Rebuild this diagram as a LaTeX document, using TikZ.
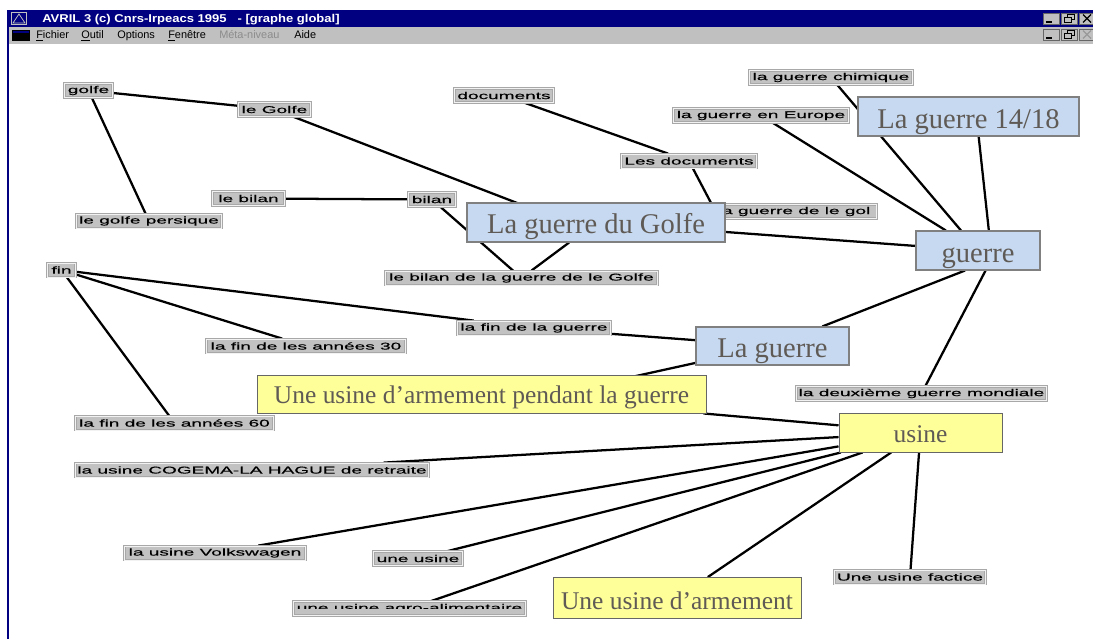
\documentclass[tikz,border=0pt]{standalone}
\usepackage{fontspec}
\usetikzlibrary{backgrounds,calc}
\setmainfont{Liberation Serif}
\newfontfamily\labfont[FakeStretch=1.93,FakeBold=0.4]{Liberation Sans}
\newfontfamily\uifont{Liberation Sans}
\newfontfamily\titlefont[FakeStretch=1.15]{Liberation Sans Bold}
\definecolor{navy}{RGB}{0,0,128}
\definecolor{wgrey}{RGB}{192,192,192}
\definecolor{labgrey}{RGB}{194,194,194}
\definecolor{labedge}{RGB}{168,168,168}
\definecolor{bluebox}{RGB}{198,217,240}
\definecolor{yelbox}{RGB}{255,255,153}
\definecolor{boxtext}{RGB}{95,90,85}
\tikzset{
 x=0.75pt,y=-0.75pt,
 w/.style={minimum width=#1*0.75pt},
 h/.style={minimum height=#1*0.75pt},
 bl/.style={text height=#1*1.5pt,text depth=0pt},
 lab/.style={draw=labedge,line width=0.6pt,double=white!90!gray,double distance=0.35pt,fill=labgrey,inner sep=0pt,h=14,
   font=\labfont\fontsize{7.4pt}{8pt}\selectfont,text=black},
 big/.style={draw=black!50,line width=0.8pt,fill=bluebox,inner sep=0pt,text=boxtext,font=\fontsize{21.4pt}{24pt}\selectfont},
 yel/.style={draw=black!60,line width=0.7pt,fill=yelbox,inner sep=0pt,text=boxtext,font=\fontsize{19.1pt}{22pt}\selectfont},
 link/.style={line width=1.7pt,black},
 menu/.style={inner sep=0pt,anchor=base west,font=\uifont\fontsize{8.2pt}{9pt}\selectfont},
 winbtn/.style={draw=black!60,line width=0.5pt,fill=wgrey,w=16,h=11,inner sep=0pt}
}
\begin{document}
\begin{tikzpicture}
\useasboundingbox (0,0) rectangle (1093,639);
% window
\fill[navy] (7,10) rectangle (1093,27);
\fill[wgrey] (9,27) rectangle (1093,44);
\fill[navy] (7,10) rectangle (9,639);
\fill[wgrey] (11,12) rectangle (27,25);
\fill[navy] (12,13) rectangle (26,24);
\draw[wgrey,line width=0.6pt] (19,14) -- (13,23) -- (25,23) -- cycle;
\fill[black] (12,30) rectangle (30,41);
\fill[navy] (13,31) rectangle (29,33);
\node[menu,text=white,font=\titlefont\fontsize{8.5pt}{9pt}\selectfont] (title) at (42,22) {AVRIL 3 (c) Cnrs-Irpeacs 1995\ \ \ - [graphe global]};
\node[menu] (m1) at (36,38) {\underline{F}ichier};
\node[menu] (m2) at (81,38) {\underline{O}util};
\node[menu] (m3) at (117,38) {Options};
\node[menu] (m4) at (168,38) {\underline{F}enêtre};
\node[menu,text=black!45] (m5) at (219,38) {Méta-niveau};
\node[menu] (m6) at (294,38) {Aide};
\foreach \nm/\xx/\yy in {b1/1051/18.5,b2/1069/18.5,b3/1087/18.5,b4/1051/34.5,b5/1069/34.5,b6/1087/34.5}{
  \node[winbtn] (\nm) at (\xx,\yy) {};
}
\foreach \nm in {b1,b4}{\draw[black,line width=1pt] ($(\nm)+(-5,3.5)$) -- ($(\nm)+(1,3.5)$);}
\foreach \nm in {b2,b5}{
  \draw[black,line width=0.6pt] ($(\nm)+(-2,-4)$) rectangle ($(\nm)+(5,1)$);
  \draw[black,fill=wgrey,line width=0.6pt] ($(\nm)+(-5,-1)$) rectangle ($(\nm)+(2,4)$);}
\draw[black,line width=0.9pt] ($(b3)+(-4,-4)$) -- ($(b3)+(4,4)$) ($(b3)+(4,-4)$) -- ($(b3)+(-4,4)$);
\draw[black!40,line width=0.9pt] ($(b6)+(-4,-4)$) -- ($(b6)+(4,4)$) ($(b6)+(4,-4)$) -- ($(b6)+(-4,4)$);
% labels
\node[lab,w=48] (golfe) at (88.5,90.5) {golfe};
\node[lab,w=72] (leGolfe) at (274.5,109.5) {le Golfe};
\node[lab,w=145] (persique) at (149,221) {le golfe persique};
\node[lab,w=72] (lebilan) at (248.5,198.5) {le bilan};
\node[lab,w=47] (bilan) at (432,199.5) {bilan};
\node[lab,w=272] (bilang) at (521.5,278) {le bilan de la guerre de le Golfe};
\node[lab,w=99] (documents) at (504,95.5) {documents};
\node[lab,w=135] (lesdoc) at (689,161) {Les documents};
\node[lab,w=163] (chimique) at (831,77.5) {la guerre chimique};
\node[lab,w=175] (europe) at (761,115.5) {la guerre en Europe};
\node[lab,w=165,anchor=east] (gdlg) at (877,211.5) {la guerre de le gol};
\node[lab,w=28] (fin) at (61.5,270) {fin};
\node[lab,w=199] (fin30) at (306,346) {la fin de les années 30};
\node[lab,w=153] (fing) at (534,328) {la fin de la guerre};
\node[lab,w=198] (fin60) at (174.5,423) {la fin de les années 60};
\node[lab,w=250] (mondiale) at (921.5,393.5) {la deuxième guerre mondiale};
\node[lab,w=353] (cogema) at (252,470) {la usine COGEMA-LA HAGUE de retraite};
\node[lab,w=181] (vw) at (215,553) {la usine Volkswagen};
\node[lab,w=89] (uneusine) at (418,558.5) {une usine};
\node[lab,w=232] (agro) at (409.5,608.5) {une usine agro-alimentaire};
\fill[labgrey] (296,608.5) rectangle (523,614);
\node[lab,w=151] (factice) at (910,577) {Une usine factice};
% big boxes
\node[big,w=258,h=39,bl=10.5] (gGolfe) at (596,222.5) {La guerre du Golfe};
\node[big,w=221,h=39,bl=11.5] (g1418) at (968.5,116.5) {La guerre 14/18};
\node[big,w=124,h=39,bl=11.5] (guerre) at (978,250.5) {guerre};
\node[big,w=153,h=38,bl=11] (laguerre) at (772.5,346) {La guerre};
\node[yel,w=449,h=38,bl=9] (armp) at (481.5,394) {Une usine d’armement pendant la guerre};
\node[yel,w=163,h=39,bl=9.5] (usine) at (920.5,432.5) {usine};
\node[yel,w=248,h=41,bl=11] (arm) at (677,598) {Une usine d’armement};
\begin{pgfonlayer}{background}
\fill[white] (0,0) rectangle (1093,639);
\draw[link] (golfe) -- (leGolfe);
\draw[link] (golfe) -- (persique);
\draw[link] (leGolfe) -- ($(gGolfe)+(-36,-3)$);
\draw[link] (lebilan) -- (bilan);
\draw[link] (bilan) -- (bilang);
\draw[link] (bilang) -- (gGolfe);
\draw[link] (documents) -- (lesdoc);
\draw[link] (lesdoc) -- ($(gGolfe)+(119,-12)$);
\draw[link] (gGolfe) -- (guerre);
\draw[link] (chimique) -- (guerre);
\draw[link] (europe) -- (guerre);
\draw[link] ($(g1418)+(8,0)$) -- ($(guerre)+(13,0)$);
\draw[link] (laguerre) -- ($(guerre.south)+(-13,0)$);
\draw[link] ($(guerre)+(18,0)$) -- (mondiale);
\draw[link] (laguerre) -- ($(armp)+(0,16)$);
\draw[link] (fing) -- (laguerre);
\draw[link] (fin) -- (fing);
\draw[link] (fin) -- (fin30);
\draw[link] (fin) -- (fin60);
\draw[link] (armp) -- (usine);
\draw[link] (cogema) -- (usine);
\draw[link] (vw) -- (usine);
\draw[link] (uneusine) -- (usine);
\draw[link] (agro) -- (usine);
\draw[link] (arm) -- (usine);
\draw[link] (factice) -- (usine);
\end{pgfonlayer}
\end{tikzpicture}
\end{document}
